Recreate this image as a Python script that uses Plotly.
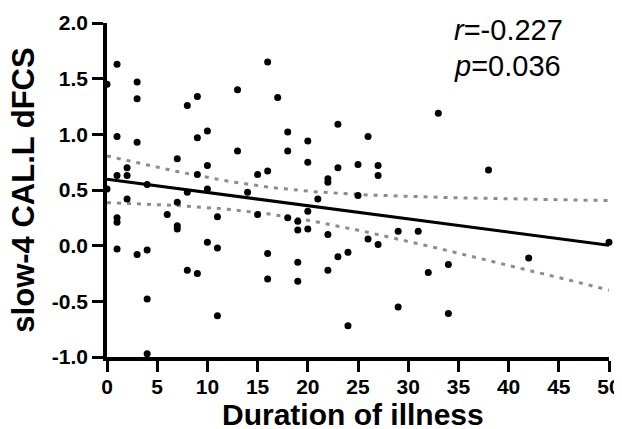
import numpy as np
import plotly.graph_objects as go

# Duration of illness (years) and slow-4 CAL.L dFCS values
duration = [1, 16, 0, 3, 3, 9, 8, 13, 17, 1, 3, 9, 10, 13, 7, 10, 2, 1, 2, 9, 15, 16,
            33, 18, 23, 20, 26, 18, 20, 23, 25, 27, 27, 22, 22, 0, 4, 8, 10, 14, 2, 7,
            1, 1, 6, 7, 7, 11, 15, 1, 3, 4, 10, 11, 16, 8, 9, 16, 4, 11, 4, 25, 21,
            20, 18, 19, 19, 20, 22, 26, 27, 29, 31, 19, 23, 24, 19, 22, 32, 34, 29,
            34, 24, 38, 42, 50]
dfcs = [1.63, 1.65, 1.45, 1.47, 1.32, 1.34, 1.26, 1.40, 1.33, 0.98, 0.93, 0.97, 1.03,
        0.85, 0.78, 0.72, 0.70, 0.63, 0.63, 0.64, 0.64, 0.67,
        1.19, 1.02, 1.09, 0.94, 0.98, 0.85, 0.75, 0.70, 0.73, 0.72, 0.63, 0.60, 0.57,
        0.51, 0.55, 0.48, 0.51, 0.48, 0.42, 0.39, 0.25, 0.21, 0.28, 0.18, 0.15, 0.26,
        0.28, -0.03, -0.08, -0.04, 0.03, -0.02, -0.07, -0.22, -0.25, -0.30, -0.48,
        -0.63, -0.97, 0.45, 0.42, 0.31, 0.25, 0.22, 0.14, 0.15, 0.10, 0.06, 0.01,
        0.13, 0.13, -0.15, -0.10, -0.06, -0.32, -0.22, -0.24, -0.17, -0.55, -0.61,
        -0.72, 0.68, -0.11, 0.03]

x_ticks = [0, 5, 10, 15, 20, 25, 30, 35, 40, 45, 50]
y_ticks = [-1.0, -0.5, 0.0, 0.5, 1.0, 1.5, 2.0]
stats_r = "-0.227"
stats_p = "0.036"
x_title = "Duration of illness"
y_title = "slow-4 CAL.L dFCS"
t_crit = 1.989

x = np.array(duration, dtype=float)
y = np.array(dfcs, dtype=float)
n = len(x)
slope, intercept = np.polyfit(x, y, 1)
resid = y - (intercept + slope * x)
s = np.sqrt(np.sum(resid ** 2) / (n - 2))
xm = x.mean()
sxx = np.sum((x - xm) ** 2)
xf = np.linspace(0, 50, 101)
yf = intercept + slope * xf
half = t_crit * s * np.sqrt(1.0 / n + (xf - xm) ** 2 / sxx)

fig = go.Figure()
fig.add_trace(go.Scatter(x=xf, y=yf + half, mode="lines",
                         line=dict(color="#8c8c8c", width=3, dash="4px,6px"),
                         hoverinfo="skip", cliponaxis=False))
fig.add_trace(go.Scatter(x=xf, y=yf - half, mode="lines",
                         line=dict(color="#8c8c8c", width=3, dash="4px,6px"),
                         hoverinfo="skip", cliponaxis=False))
fig.add_trace(go.Scatter(x=xf, y=yf, mode="lines",
                         line=dict(color="black", width=3), cliponaxis=False))
fig.add_trace(go.Scatter(x=duration, y=dfcs, mode="markers",
                         marker=dict(color="black", size=7), cliponaxis=False))

stat_font = dict(family="Liberation Sans, Arial", size=29, color="black")
fig.add_annotation(x=34.4, y=1.94, xref="x", yref="y", xanchor="left", yanchor="middle",
                   text="<i>r</i>=" + stats_r, showarrow=False, font=stat_font)
fig.add_annotation(x=34.4, y=1.61, xref="x", yref="y", xanchor="left", yanchor="middle",
                   text="<i>p</i>=" + stats_p, showarrow=False, font=stat_font)

fig.add_annotation(x=0.49, y=-0.173, xref="paper", yref="paper", xanchor="center",
                   yanchor="middle", text=x_title, showarrow=False,
                   font=dict(family="Liberation Sans, Arial", size=30, color="black",
                             weight="bold"))
fig.add_annotation(x=-0.168, y=0.5, xref="paper", yref="paper", xanchor="center",
                   yanchor="middle", text=y_title, showarrow=False, textangle=-90,
                   font=dict(family="Liberation Sans, Arial", size=31, color="black",
                             weight="bold"))

axis_font = dict(family="Liberation Sans, Arial", size=21, color="black", weight="bold")
fig.update_layout(
    width=614, height=421,
    margin=dict(l=99, r=13, t=15, b=72),
    paper_bgcolor="white", plot_bgcolor="white",
    showlegend=False,
    xaxis=dict(range=[0, 50], tickvals=x_ticks, ticktext=[str(v) for v in x_ticks],
               showgrid=False, zeroline=False, showline=True, linecolor="black",
               linewidth=3.5, ticks="outside", ticklen=11, tickwidth=3, tickcolor="black",
               tickfont=axis_font, automargin=False, ticklabelstandoff=-3),
    yaxis=dict(range=[-1, 2], tickvals=y_ticks, ticktext=["%.1f" % v for v in y_ticks],
               showgrid=False, zeroline=False, showline=True, linecolor="black",
               linewidth=3.5, ticks="outside", ticklen=11, tickwidth=3, tickcolor="black",
               tickfont=axis_font, automargin=False),
)

fig.write_html("out.html")
